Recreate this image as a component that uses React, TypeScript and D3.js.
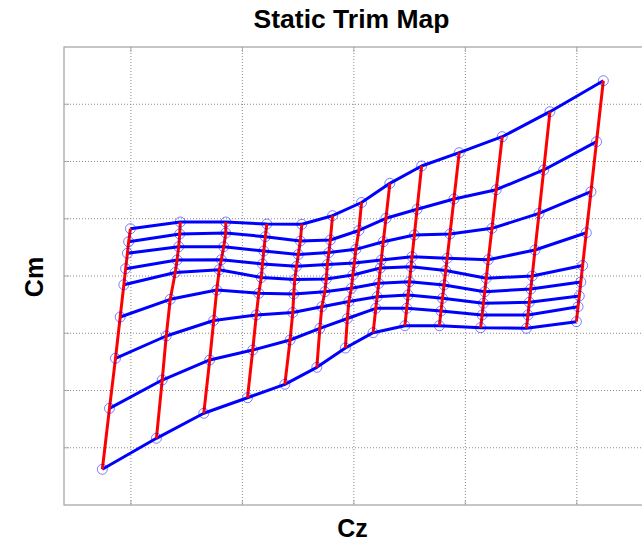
import React from 'react';
import * as d3 from 'd3';

// Each row = one blue curve (constant parameter), 13 points each; columns form the red curves.
const czRows: number[][] = [
  [-2.004, -1.557, -1.149, -0.781, -0.467, -0.191, 0.069, 0.323, 0.608, 0.945, 1.331, 1.759, 2.238],
  [-2.020, -1.562, -1.149, -0.794, -0.480, -0.211, 0.045, 0.288, 0.567, 0.898, 1.277, 1.703, 2.177],
  [-2.031, -1.571, -1.167, -0.808, -0.498, -0.224, 0.018, 0.264, 0.543, 0.862, 1.239, 1.661, 2.127],
  [-2.047, -1.586, -1.189, -0.820, -0.514, -0.238, 0.004, 0.246, 0.522, 0.837, 1.206, 1.625, 2.085],
  [-2.063, -1.602, -1.207, -0.830, -0.530, -0.247, -0.009, 0.238, 0.513, 0.824, 1.188, 1.600, 2.052],
  [-2.096, -1.647, -1.230, -0.853, -0.539, -0.260, -0.022, 0.223, 0.499, 0.809, 1.174, 1.587, 2.036],
  [-2.138, -1.683, -1.257, -0.875, -0.548, -0.287, -0.045, 0.209, 0.487, 0.795, 1.162, 1.574, 2.022],
  [-2.192, -1.719, -1.293, -0.907, -0.572, -0.305, -0.058, 0.197, 0.474, 0.782, 1.151, 1.562, 2.011],
  [-2.256, -1.771, -1.346, -0.954, -0.619, -0.332, -0.076, 0.173, 0.458, 0.767, 1.137, 1.548, 1.996],
];

const cmRows: number[][] = [
  [0.826, 0.943, 0.943, 0.908, 0.903, 1.053, 1.284, 1.619, 1.921, 2.154, 2.433, 2.870, 3.411],
  [0.599, 0.734, 0.751, 0.686, 0.611, 0.629, 0.795, 1.008, 1.165, 1.345, 1.507, 1.852, 2.346],
  [0.397, 0.512, 0.512, 0.437, 0.376, 0.410, 0.466, 0.599, 0.716, 0.734, 0.833, 1.095, 1.472],
  [0.128, 0.279, 0.285, 0.210, 0.169, 0.201, 0.227, 0.279, 0.337, 0.309, 0.285, 0.454, 0.756],
  [-0.152, 0.061, 0.110, -0.026, -0.061, -0.052, 0.017, 0.140, 0.162, 0.096, -0.040, 0.000, 0.183],
  [-0.716, -0.407, -0.245, -0.302, -0.314, -0.274, -0.215, -0.128, -0.100, -0.157, -0.274, -0.227, -0.105],
  [-1.438, -1.048, -0.777, -0.681, -0.638, -0.536, -0.445, -0.362, -0.332, -0.390, -0.477, -0.459, -0.349],
  [-2.311, -1.817, -1.467, -1.293, -1.118, -0.914, -0.742, -0.564, -0.564, -0.611, -0.681, -0.681, -0.536],
  [-3.376, -2.835, -2.398, -2.126, -1.892, -1.595, -1.258, -0.990, -0.868, -0.868, -0.903, -0.914, -0.798],
];

const xTicks = [-2, -1, 0, 1, 2];
const yTicks = [-3, -2, -1, 0, 1, 2, 3];
const xDomain: [number, number] = [-2.6, 2.6];
const yDomain: [number, number] = [-4, 4];

const titleText = 'Static Trim Map';
const xLabel = 'Cz';
const yLabel = 'Cm';

export default function App() {
  const W = 642;
  const H = 540;
  const left = 64, top = 47, bottom = 505, right = 643.7;
  const x = d3.scaleLinear().domain(xDomain).range([left, right]);
  const y = d3.scaleLinear().domain(yDomain).range([bottom, top]);
  const line = d3.line<[number, number]>().x(d => x(d[0])).y(d => y(d[1]));

  const bluePts: [number, number][][] = czRows.map((r, j) => r.map((c, i) => [c, cmRows[j][i]] as [number, number]));
  const redPts: [number, number][][] = czRows[0].map((_, i) => czRows.map((r, j) => [r[i], cmRows[j][i]] as [number, number]));
  const font = '"Liberation Sans", Arial, sans-serif';
  const frame = '#a8a8a8';
  const grid = '#8a8a8a';

  return (
    <svg width={W} height={H} style={{ position: 'absolute', left: 0, top: 0, background: '#fff' }}>
      <rect x={0} y={0} width={W} height={H} fill="#fff" />
      {xTicks.map(t => (
        <line key={'gx' + t} x1={x(t)} x2={x(t)} y1={top} y2={bottom} stroke={grid} strokeWidth={1} strokeDasharray="1,2" />
      ))}
      {yTicks.map(t => (
        <line key={'gy' + t} x1={left} x2={right} y1={y(t)} y2={y(t)} stroke={grid} strokeWidth={1} strokeDasharray="1,2" />
      ))}
      {xTicks.map(t => (
        <g key={'tx' + t}>
          <line x1={x(t)} x2={x(t)} y1={bottom} y2={bottom - 5} stroke={frame} strokeWidth={1} />
          <line x1={x(t)} x2={x(t)} y1={top} y2={top + 5} stroke={frame} strokeWidth={1} />
        </g>
      ))}
      {yTicks.map(t => (
        <line key={'ty' + t} x1={left} x2={left + 5} y1={y(t)} y2={y(t)} stroke={frame} strokeWidth={1} />
      ))}
      <rect x={left} y={top} width={right - left} height={bottom - top} fill="none" stroke={frame} strokeWidth={1.3} />
      {bluePts.map((pts, j) => (
        <path key={'b' + j} d={line(pts) || ''} fill="none" stroke="#0000ff" strokeWidth={3} strokeLinejoin="round" />
      ))}
      {redPts.map((pts, i) => (
        <path key={'r' + i} d={line(pts) || ''} fill="none" stroke="#ff0000" strokeWidth={3} strokeLinejoin="round" />
      ))}
      {bluePts.flat().map((p, k) => (
        <circle key={'c' + k} cx={x(p[0])} cy={y(p[1])} r={5} fill="none" stroke="#0000ff" strokeOpacity={0.5} strokeWidth={1} />
      ))}
      <text x={351.5} y={27.5} textAnchor="middle" fontFamily={font} fontWeight="bold" fontSize={26.5} fill="#000">{titleText}</text>
      <text x={352.5} y={536.5} textAnchor="middle" fontFamily={font} fontWeight="bold" fontSize={25} fill="#000">{xLabel}</text>
      <text transform={`translate(43,277) rotate(-90)`} textAnchor="middle" fontFamily={font} fontWeight="bold" fontSize={25} fill="#000">{yLabel}</text>
    </svg>
  );
}
